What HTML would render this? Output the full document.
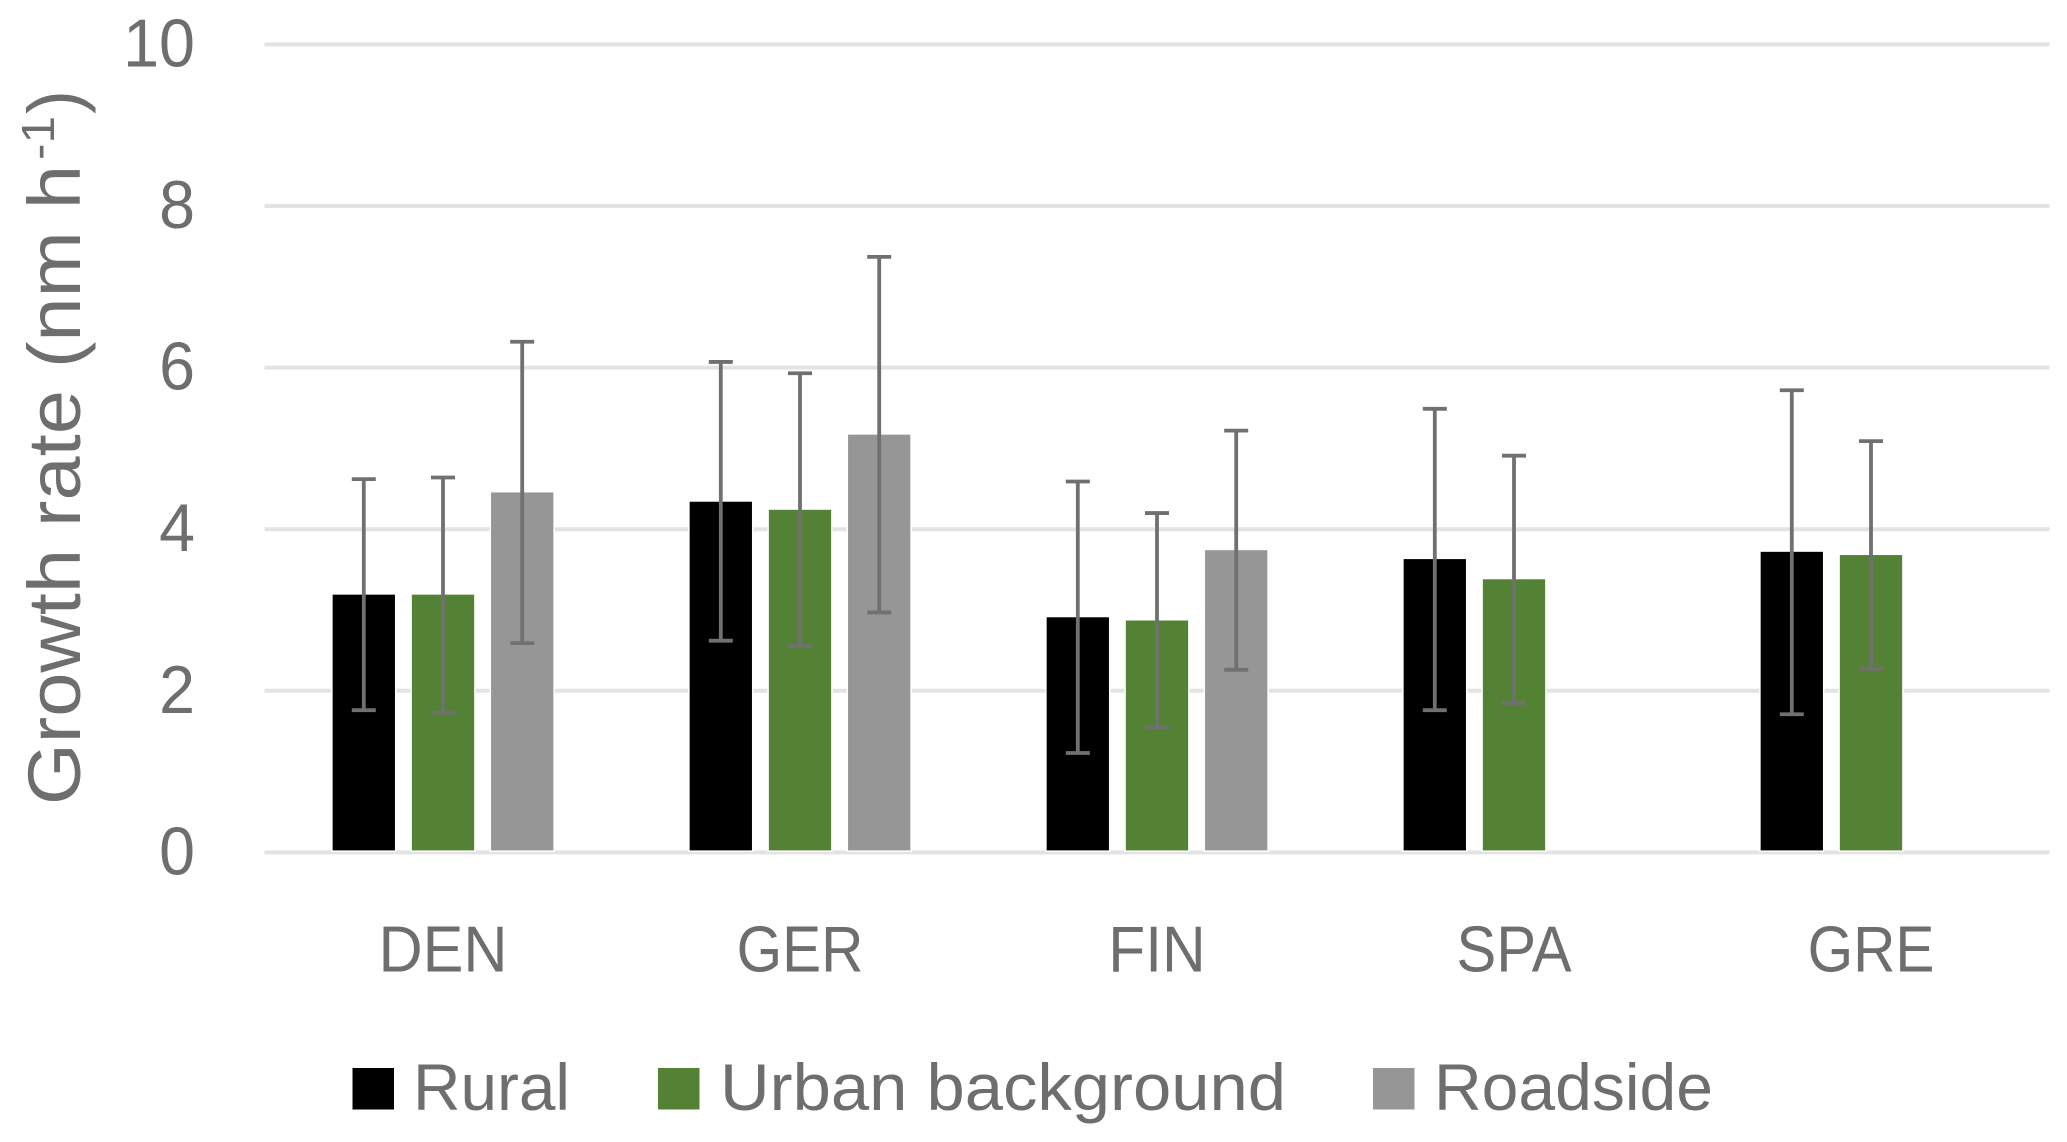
<!DOCTYPE html>
<html lang="en">
<head>
<meta charset="utf-8">
<title>Growth rate by country and site type</title>
<style>
  html, body { margin: 0; padding: 0; background: #ffffff; }
  svg { display: block; }
  text { font-family: "Liberation Sans", sans-serif; fill: #6e6e6e; }
</style>
</head>
<body>
<svg id="chart" xmlns="http://www.w3.org/2000/svg" width="2067" height="1142" viewBox="0 0 2067 1142">
  <g id="grid"></g>
  <g id="ticks"></g>
  <g id="bars"></g>
  <g id="errs"></g>
  <g id="cats"></g>
  <g transform="translate(80,805) rotate(-90)">
    <text font-size="74"><tspan x="0" y="0" textLength="640" lengthAdjust="spacingAndGlyphs">Growth rate (nm h</tspan><tspan x="645" y="-26" font-size="46" textLength="44" lengthAdjust="spacingAndGlyphs">-1</tspan><tspan x="691" y="0" textLength="24" lengthAdjust="spacingAndGlyphs">)</tspan></text>
  </g>
  <g>
    <g>
      <rect x="352.5" y="1068" width="41.5" height="41.5" fill="#000000"></rect>
      <text x="413" y="1110" font-size="66" textLength="157" lengthAdjust="spacingAndGlyphs">Rural</text>
    </g>
    <g>
      <rect x="658" y="1068" width="41.5" height="41.5" fill="#548235"></rect>
      <text x="720" y="1110" font-size="66" textLength="566" lengthAdjust="spacingAndGlyphs">Urban background</text>
    </g>
    <g>
      <rect x="1373" y="1068" width="41.5" height="41.5" fill="#969696"></rect>
      <text x="1434" y="1110" font-size="66" textLength="279" lengthAdjust="spacingAndGlyphs">Roadside</text>
    </g>
  </g>
</svg>
<script>
var categories = ["DEN", "GER", "FIN", "SPA", "GRE"];
var tickValues = [0, 2, 4, 6, 8, 10];
var seriesNames = ["rural", "urban-background", "roadside"];
var ruralValues = [3.19, 4.34, 2.91, 3.63, 3.72];
var ruralHigh = [4.62, 6.07, 4.59, 5.49, 5.72];
var ruralLow = [1.76, 2.62, 1.23, 1.76, 1.71];
var urbanValues = [3.19, 4.24, 2.87, 3.38, 3.68];
var urbanHigh = [4.64, 5.93, 4.20, 4.91, 5.09];
var urbanLow = [1.73, 2.555, 1.545, 1.85, 2.275];
var roadsideValues = [4.455, 5.17, 3.74, null, null];
var roadsideHigh = [6.32, 7.37, 5.22, null, null];
var roadsideLow = [2.59, 2.97, 2.26, null, null];

var NS = "http://www.w3.org/2000/svg";
var plotLeft = 264.5, plotRight = 2049.5, plotBase = 852.4, plotTop = 44.4;
var barWidth = 62.3, barStep = 79.2, capHalf = 12;
var seriesColors = ["#000000", "#548235", "#969696"];
var seriesValues = [ruralValues, urbanValues, roadsideValues];
var seriesHigh = [ruralHigh, urbanHigh, roadsideHigh];
var seriesLow = [ruralLow, urbanLow, roadsideLow];
var labelCondense = { DEN: 0.94, GER: 0.90, FIN: 0.93, SPA: 0.92, GRE: 0.90 };

function yScale(v) { return plotBase - (v / 10) * (plotBase - plotTop); }
function xBand(i) { return plotLeft + (i + 0.5) * (plotRight - plotLeft) / categories.length; }
function xBar(i, s) { return xBand(i) + (s - 1) * barStep; }
function make(tag, attrs, parent) {
  var el = document.createElementNS(NS, tag);
  for (var k in attrs) el.setAttribute(k, attrs[k]);
  parent.appendChild(el);
  return el;
}
function condense(el, factor) {
  var len = el.getComputedTextLength();
  el.setAttribute("textLength", (len * factor).toFixed(1));
  el.setAttribute("lengthAdjust", "spacingAndGlyphs");
}

var gridG = document.getElementById("grid");
var ticksG = document.getElementById("ticks");
tickValues.forEach(function (t) {
  var line = make("line", { x1: plotLeft, x2: plotRight, y1: yScale(t), y2: yScale(t), stroke: "#e3e3e3", "stroke-width": 4 }, gridG);
  
  
  var label = make("text", { x: 195, y: yScale(t) + 22, "font-size": 68, "text-anchor": "end" }, ticksG);
  label.textContent = String(t);
  
  
  condense(label, 0.95);
});

var barsG = document.getElementById("bars");
var errsG = document.getElementById("errs");
categories.forEach(function (cat, i) {
  seriesNames.forEach(function (name, s) {
    var v = seriesValues[s][i];
    if (v === null) return;
    var x = xBar(i, s);
    var bar = make("rect", {
      x: x - barWidth / 2, y: yScale(v), width: barWidth, height: yScale(0) - 2 - yScale(v),
      fill: seriesColors[s], stroke: "#ffffff", "stroke-width": 3, "paint-order": "stroke"
    }, barsG);
    
    

    var hi = yScale(seriesHigh[s][i]), lo = yScale(seriesLow[s][i]);
    var err = make("path", {
      d: "M" + x + " " + hi + "V" + lo + "M" + (x - capHalf) + " " + hi + "H" + (x + capHalf) + "M" + (x - capHalf) + " " + lo + "H" + (x + capHalf),
      stroke: "#707070", "stroke-width": 3.8, fill: "none"
    }, errsG);
    
    
  });
  var catLabel = make("text", { x: xBand(i), y: 971.5, "font-size": 65, "text-anchor": "middle" }, document.getElementById("cats"));
  catLabel.textContent = cat;
  
  
  condense(catLabel, labelCondense[cat] || 0.92);
});
</script>
</body>
</html>
